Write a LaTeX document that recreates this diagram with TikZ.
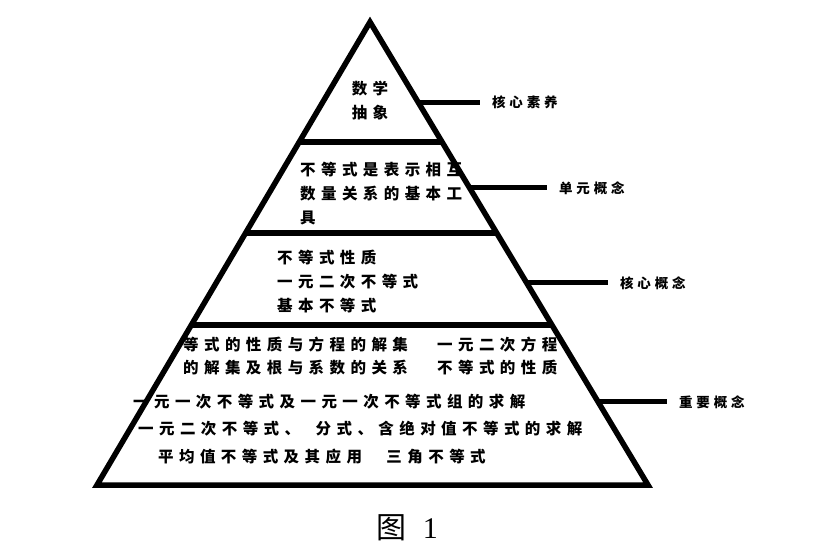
\documentclass[tikz,border=0pt]{standalone}
\usepackage{fontspec}
\usepackage{tikz}
\usetikzlibrary{calc,positioning}
\setmainfont{Liberation Serif}
\newfontfamily\cjk[LetterSpace=35]{Noto Sans CJK SC}
\newfontfamily\cjklbl[LetterSpace=28]{Noto Sans CJK SC}
\newfontfamily\cjkcap{Noto Sans CJK SC}
\tikzset{
  borde/.style={line width=5.5pt,black},
  rama/.style={line width=5pt,black},
  texto/.style={anchor=west,inner sep=0pt,align=left,font={\cjk\bfseries\fontsize{15.5}{24}\selectfont}},
  nivel/.style={anchor=west,inner sep=0pt,font={\cjklbl\bfseries\fontsize{13.5}{15}\selectfont}},
}
\begin{document}
\begin{tikzpicture}[x=1pt,y=-1pt]
  \useasboundingbox (0,0) rectangle (813,559);
  % texto dentro de la piramide
  \node[texto,anchor=center,align=center] (abstracto) at (370,101) {数学\\抽象};
  \node[texto] (unidad) at (300,194) {不等式是表示相互\\数量关系的基本工\\具};
  \node[texto] (nucleo) at (277,282) {不等式性质\\一元二次不等式\\基本不等式};
  \node[texto] (igualA) at (183,345) {等式的性质与方程的解集};
  \node[texto] (igualB) at (437,345) {一元二次方程};
  \node[texto] (raizA) at (183,368) {的解集及根与系数的关系};
  \node[texto] (raizB) at (437,368) {不等式的性质};
  \node[texto] (lineal) at (133,402) {一元一次不等式及一元一次不等式组的求解};
  \node[texto] (cuadra) at (138,429) {一元二次不等式、\quad 分式、含绝对值不等式的求解};
  \node[texto] (media) at (158,457) {平均值不等式及其应用\quad\ 三角不等式};
  % piramide
  \coordinate (apex) at (370,22);
  \coordinate (izq) at (97,485);
  \coordinate (der) at (648,485);
  \draw[borde,line join=miter] (apex) -- (izq) -- (der) -- cycle;
  \foreach \t in {0.2592,0.4557,0.6544}
    \draw[borde] ($(apex)!\t!(izq)$) -- ($(apex)!\t!(der)$);
  % ramas y etiquetas
  \foreach \t/\xf/\nombre/\txt in {0.1728/480/ns/核心素养,0.3585/547/ny/单元概念,0.5637/608/nh/核心概念,0.8207/667/nz/重要概念}{
    \coordinate (b\nombre) at ($(apex)!\t!(der)$);
    \node[nivel] (\nombre) at (\xf+12,0 |- b\nombre) {\txt};
    \draw[rama] (b\nombre) -- (\xf,0 |- b\nombre);
  }
  % pie
  \node[inner sep=0pt,font=\fontsize{30}{32}\selectfont] (pie) at (407,528) {{\cjkcap 图}\hspace{0.55em}1};
\end{tikzpicture}
\end{document}
